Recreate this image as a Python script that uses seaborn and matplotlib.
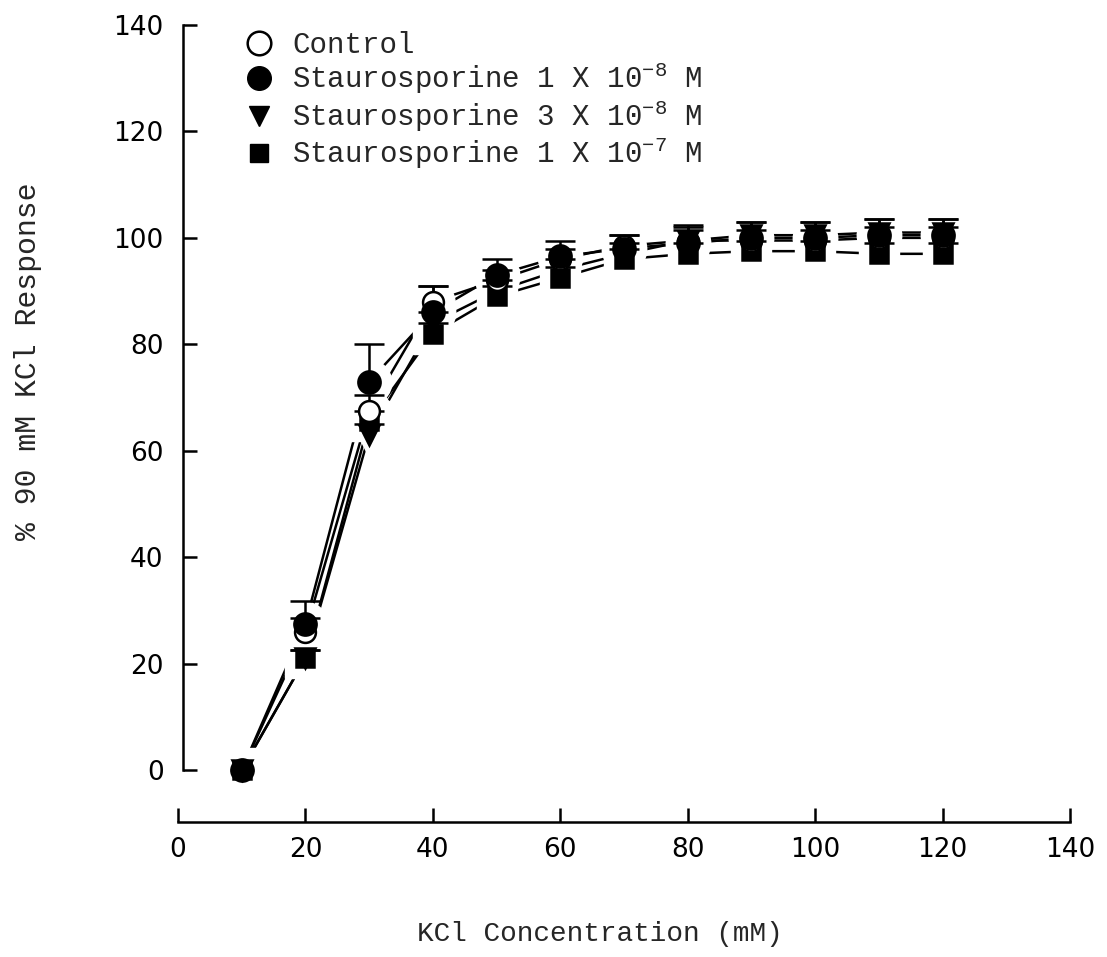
import matplotlib
matplotlib.use('Agg')
import matplotlib.pyplot as plt
import seaborn as sns
from matplotlib.lines import Line2D

# KCl concentration (mM) and % of 90 mM KCl response
kcl = [10, 20, 30, 40, 50, 60, 70, 80, 90, 100, 110, 120]
control = [0, 26, 67.5, 88, 92, 96, 98.5, 99.5, 99.5, 99.5, 100, 100]
stauro_1e8 = [0, 27.5, 73, 86, 93, 96.5, 98, 99, 100, 100, 100.5, 100.5]
stauro_3e8 = [0, 21, 63, 84, 90, 94, 97, 99.5, 100.5, 100.5, 101, 101]
stauro_1e7 = [0, 21, 65.5, 82, 89, 92.5, 96, 97, 97.5, 97.5, 97, 97]

err_control = [0, 2.5, 3, 3, 2, 2, 2, 2, 2, 2, 2, 2]
err_1e8 = [0, 4.3, 7, 5, 3, 3, 2.5, 3.5, 3, 3, 3, 3]
err_3e8 = [0, 1.5, 2, 2, 2, 2, 2, 2.5, 2.5, 2.5, 2.5, 2.5]
err_1e7 = [0, 1.5, 2, 2, 2, 2, 2, 2, 2, 2, 2, 2]

labels = ['Control',
          r'Staurosporine 1 X 10$^{-8}$ M',
          r'Staurosporine 3 X 10$^{-8}$ M',
          r'Staurosporine 1 X 10$^{-7}$ M']

sns.set_style('ticks')
plt.rcParams['font.family'] = ['DejaVu Sans']
plt.rcParams['mathtext.fontset'] = 'custom'
plt.rcParams['mathtext.rm'] = 'Liberation Mono'
plt.rcParams['mathtext.it'] = 'Liberation Mono'
plt.rcParams['mathtext.bf'] = 'Liberation Mono'
mono = ['Liberation Mono', 'DejaVu Sans Mono']

# (values, errors, marker, size, face) drawn bottom to top
series = [
    (stauro_1e7, err_1e7, 's', 13, 'black'),
    (stauro_3e8, err_3e8, 'v', 15, 'black'),
    (control, err_control, 'o', 15, 'white'),
    (stauro_1e8, err_1e8, 'o', 16, 'black'),
]

fig = plt.figure(figsize=(11.07, 9.57), dpi=100)
ax = fig.add_axes([0.1608, 0.1787, 0.8058, 0.8063])

for vals, err, m, ms, fc in series:
    sns.lineplot(x=kcl, y=vals, ax=ax, color='black', linewidth=1.8, zorder=1)

# white halos to break the lines around the markers
for vals, err, m, ms, fc in series:
    ax.plot(kcl, vals, linestyle='none', marker=m, markersize=ms + 16,
            markerfacecolor='white', markeredgecolor='white', zorder=2, clip_on=False)

# upper error bars only (none at the 10 mM baseline)
for vals, err, m, ms, fc in series:
    eb = ax.errorbar(kcl[1:], vals[1:], yerr=[[0] * len(err[1:]), err[1:]], fmt='none',
                     ecolor='black', elinewidth=1.8, capsize=11, capthick=1.8, zorder=3)
    eb[1][0].set_visible(False)

for vals, err, m, ms, fc in series:
    ax.plot(kcl, vals, linestyle='none', marker=m, markersize=ms,
            markerfacecolor=fc, markeredgecolor='black', markeredgewidth=1.8,
            zorder=4, clip_on=False)

ax.set_xlim(0, 140)
ax.set_ylim(-3, 142)
ax.set_xticks(range(0, 141, 20))
ax.set_yticks(range(0, 141, 20))
ax.spines['top'].set_visible(False)
ax.spines['right'].set_visible(False)
ax.spines['left'].set_position(('data', 0.8))
ax.spines['left'].set_bounds(0, 140)
ax.spines['bottom'].set_position(('outward', 26))
for s in ['left', 'bottom']:
    ax.spines[s].set_linewidth(1.8)
    ax.spines[s].set_color('black')
ax.tick_params(direction='in', length=10, width=1.8, labelsize=19, colors='black')
ax.tick_params(axis='y', pad=14)
ax.tick_params(axis='x', pad=11)

ax.set_xlabel('KCl Concentration (mM)', family=mono, fontsize=20)
ax.set_ylabel('% 90 mM KCl Response', family=mono, fontsize=21.5)
ax.xaxis.set_label_coords(0.473, -0.175)
ax.yaxis.set_label_coords(-0.152, 0.551)

handles = [
    Line2D([], [], linestyle='none', marker='o', markersize=17, markerfacecolor='white',
           markeredgecolor='black', markeredgewidth=1.8),
    Line2D([], [], linestyle='none', marker='o', markersize=17, markerfacecolor='black',
           markeredgecolor='black'),
    Line2D([], [], linestyle='none', marker='v', markersize=15, markerfacecolor='black',
           markeredgecolor='black'),
    Line2D([], [], linestyle='none', marker='s', markersize=13, markerfacecolor='black',
           markeredgecolor='black'),
]
ax.legend(handles, labels, loc='upper left', bbox_to_anchor=(0.21, 0.98),
          bbox_transform=fig.transFigure, frameon=False, handlelength=1.0,
          handletextpad=0.65, labelspacing=0.08, borderaxespad=0,
          prop={'family': mono, 'size': 21})

fig.savefig('out.png', dpi=100, facecolor='white')
